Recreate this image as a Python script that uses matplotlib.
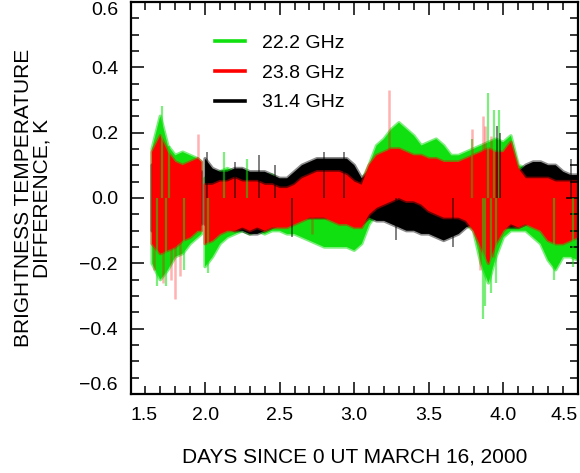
import numpy as np
import matplotlib
matplotlib.use("Agg")
import matplotlib.pyplot as plt
from matplotlib.ticker import MultipleLocator

plt.rcParams['font.family'] = ['Liberation Sans', 'DejaVu Sans']

# time axis (days since 0 UT March 16, 2000); NaN row marks the data gap near day 2
days = [1.645, 1.70, 1.75, 1.80, 1.85, 1.90, 1.95, 1.975, 1.985,
        2.00, 2.05, 2.10, 2.15, 2.20, 2.25, 2.30, 2.35, 2.40, 2.45,
        2.50, 2.55, 2.60, 2.65, 2.70, 2.75, 2.80, 2.85, 2.90, 2.95,
        3.00, 3.05, 3.10, 3.15, 3.20, 3.25, 3.30, 3.35, 3.40, 3.45,
        3.50, 3.55, 3.60, 3.65, 3.70, 3.75, 3.80, 3.85, 3.90, 3.95,
        4.00, 4.05, 4.10, 4.15, 4.20, 4.25, 4.30, 4.35, 4.40, 4.45, 4.50]

nan = np.nan
# envelopes of the scatter for each channel, K
g_hi = [0.15, 0.25, 0.16, 0.13, 0.14, 0.13, 0.12, 0.11, nan,
        0.06, 0.07, 0.08, 0.09, 0.08, 0.07, 0.07, 0.07, 0.07, 0.07,
        0.05, 0.04, 0.05, 0.06, 0.07, 0.07, 0.07, 0.07, 0.07, 0.07,
        0.06, 0.05, 0.10, 0.16, 0.18, 0.21, 0.23, 0.21, 0.19, 0.16,
        0.17, 0.18, 0.16, 0.13, 0.13, 0.14, 0.15, 0.16, 0.17, 0.18,
        0.17, 0.19, 0.10, 0.09, 0.08, 0.07, 0.07, 0.06, 0.06, 0.05, 0.05]
g_lo = [-0.20, -0.25, -0.22, -0.18, -0.17, -0.14, -0.12, -0.11, nan,
        -0.21, -0.18, -0.14, -0.12, -0.11, -0.10, -0.11, -0.10, -0.11, -0.10,
        -0.10, -0.11, -0.11, -0.12, -0.13, -0.14, -0.15, -0.15, -0.15, -0.15,
        -0.16, -0.14, -0.08, -0.05, -0.04, -0.03, -0.02, -0.03, -0.03, -0.04,
        -0.05, -0.06, -0.07, -0.07, -0.08, -0.08, -0.10, -0.20, -0.26, -0.18,
        -0.12, -0.10, -0.10, -0.10, -0.12, -0.14, -0.19, -0.22, -0.18, -0.18, -0.19]

r_hi = [0.14, 0.19, 0.14, 0.11, 0.10, 0.11, 0.12, 0.11, nan,
        0.04, 0.04, 0.05, 0.05, 0.06, 0.05, 0.05, 0.05, 0.04, 0.04,
        0.03, 0.03, 0.04, 0.06, 0.07, 0.08, 0.08, 0.08, 0.08, 0.07,
        0.05, 0.04, 0.10, 0.13, 0.14, 0.15, 0.15, 0.14, 0.13, 0.13,
        0.12, 0.12, 0.11, 0.11, 0.11, 0.12, 0.13, 0.14, 0.15, 0.14,
        0.14, 0.17, 0.09, 0.06, 0.06, 0.06, 0.06, 0.05, 0.05, 0.05, 0.05]
r_lo = [-0.14, -0.17, -0.16, -0.15, -0.13, -0.12, -0.10, -0.10, nan,
        -0.14, -0.13, -0.11, -0.10, -0.10, -0.09, -0.10, -0.09, -0.10, -0.09,
        -0.09, -0.09, -0.08, -0.07, -0.06, -0.06, -0.06, -0.07, -0.08, -0.08,
        -0.09, -0.09, -0.05, -0.03, -0.02, -0.01, 0.00, -0.01, -0.01, -0.02,
        -0.04, -0.05, -0.06, -0.06, -0.06, -0.07, -0.10, -0.15, -0.20, -0.14,
        -0.10, -0.08, -0.09, -0.08, -0.09, -0.10, -0.13, -0.14, -0.14, -0.13, -0.12]

k_hi = [0.10, 0.12, 0.10, 0.08, 0.07, 0.07, 0.08, 0.08, nan,
        0.12, 0.09, 0.08, 0.08, 0.09, 0.09, 0.08, 0.08, 0.08, 0.07,
        0.06, 0.06, 0.08, 0.10, 0.11, 0.12, 0.12, 0.12, 0.12, 0.12,
        0.10, 0.06, 0.08, 0.07, 0.07, 0.06, 0.06, 0.05, 0.05, 0.05,
        0.05, 0.04, 0.04, 0.03, 0.04, 0.06, 0.08, 0.09, 0.10, 0.10,
        0.11, 0.12, 0.08, 0.10, 0.11, 0.11, 0.10, 0.10, 0.08, 0.07, 0.07]
k_lo = [-0.10, -0.12, -0.12, -0.12, -0.10, -0.10, -0.08, -0.08, nan,
        -0.08, -0.09, -0.09, -0.09, -0.10, -0.10, -0.11, -0.11, -0.10, -0.09,
        -0.08, -0.08, -0.07, -0.06, -0.06, -0.06, -0.06, -0.06, -0.07, -0.07,
        -0.08, -0.08, -0.06, -0.07, -0.07, -0.08, -0.09, -0.10, -0.10, -0.11,
        -0.11, -0.12, -0.13, -0.12, -0.11, -0.09, -0.08, -0.09, -0.10, -0.09,
        -0.09, -0.09, -0.09, -0.08, -0.07, -0.06, -0.06, -0.07, -0.07, -0.06, -0.04]

# isolated excursions (day, value)
g_spike_t = [1.68, 1.71, 1.74, 1.76, 1.86, 2.02, 2.13, 2.28, 3.79, 3.86, 3.88, 3.90,
             3.92, 3.94, 3.95, 3.97, 4.34, 4.47]
g_spike_v = [-0.27, 0.28, -0.27, 0.16, -0.22, -0.23, 0.14, 0.12, 0.18, -0.37, -0.33, 0.32,
             -0.29, 0.27, -0.26, 0.27, -0.25, -0.21]
r_spike_t = [1.66, 1.72, 1.77, 1.80, 1.83, 1.955, 2.72, 3.235, 3.79, 3.84, 3.86, 3.88, 3.92, 3.93]
r_spike_v = [-0.22, -0.26, -0.25, -0.31, -0.24, 0.195, -0.11, 0.33, 0.21, -0.22, 0.25, 0.22, 0.19, -0.18]
k_spike_t = [2.01, 2.20, 2.36, 2.47, 2.58, 2.80, 2.93, 3.28, 3.66, 3.96, 3.98, 4.45]
k_spike_v = [0.14, 0.11, 0.13, 0.10, -0.12, 0.14, 0.14, -0.13, -0.15, 0.22, 0.20, 0.12]

labels = ['22.2 GHz', '23.8 GHz', '31.4 GHz']
green = '#10e010'
red = '#ff0000'
black = '#000000'

fig = plt.figure(figsize=(5.8, 4.73), dpi=100)
ax = fig.add_axes([0.225, 0.167, 0.7715, 0.829])

t = np.array(days)
ax.fill_between(t, g_lo, g_hi, facecolor=green, edgecolor=green, lw=2.5, alpha=0.55)
ax.fill_between(t, g_lo, g_hi, facecolor=green, lw=0)
ax.vlines(g_spike_t, 0, g_spike_v, color=green, lw=1.6, alpha=0.55)
ax.fill_between(t, k_lo, k_hi, facecolor=black, edgecolor=black, lw=2.5, alpha=0.45)
ax.fill_between(t, k_lo, k_hi, facecolor=black, lw=0)
ax.vlines(k_spike_t, 0, k_spike_v, color=black, lw=1.4, alpha=0.5)
ax.fill_between(t, r_lo, r_hi, facecolor=red, edgecolor=red, lw=2.5, alpha=0.45)
ax.fill_between(t, r_lo, r_hi, facecolor=red, lw=0)
ax.vlines(r_spike_t, 0, r_spike_v, color=red, lw=1.8, alpha=0.3)

# legend proxies
ax.plot([], [], color=green, lw=2.6, label=labels[0])
ax.plot([], [], color=red, lw=2.6, label=labels[1])
ax.plot([], [], color=black, lw=2.6, label=labels[2])
ax.legend(loc='upper left', bbox_to_anchor=(0.188, 0.918), frameon=False,
          fontsize=14, handlelength=1.55, handletextpad=0.9, labelspacing=0.63,
          borderpad=0, borderaxespad=0)

ax.set_xlim(1.5, 4.5)
ax.set_ylim(-0.6, 0.6)
ax.xaxis.set_minor_locator(MultipleLocator(0.1))
ax.yaxis.set_minor_locator(MultipleLocator(0.05))
ax.set_xticks([1.5, 2.0, 2.5, 3.0, 3.5, 4.0, 4.5])
ax.set_xticklabels(['1.5', '2.0', '2.5', '3.0', '3.5', '4.0', '4.5'])
ax.set_yticks([-0.6, -0.4, -0.2, 0.0, 0.2, 0.4, 0.6])
ax.set_yticklabels(['\u22120.6', '\u22120.4', '\u22120.2', '0.0', '0.2', '0.4', '0.6'])
ax.tick_params(which='both', direction='in', top=True, right=True, labelsize=14)
ax.tick_params(which='major', length=9, width=1.1)
ax.tick_params(which='minor', length=5.5, width=1.1)
ax.tick_params(axis='x', pad=9)
ax.tick_params(axis='y', pad=9)
for s in ax.spines.values():
    s.set_linewidth(1.6)

xl = ax.get_xticklabels()
xl[0].set_ha('left')
xl[-1].set_ha('right')
yl = ax.get_yticklabels()
yl[0].set_va('bottom')
yl[-1].set_va('top')

ax.set_xlabel('DAYS SINCE 0 UT MARCH 16, 2000', fontsize=15, labelpad=17)
ax.set_ylabel('BRIGHTNESS TEMPERATURE\nDIFFERENCE, K', fontsize=15, labelpad=20,
              linespacing=1.0)

fig.savefig('out.png', dpi=100)
